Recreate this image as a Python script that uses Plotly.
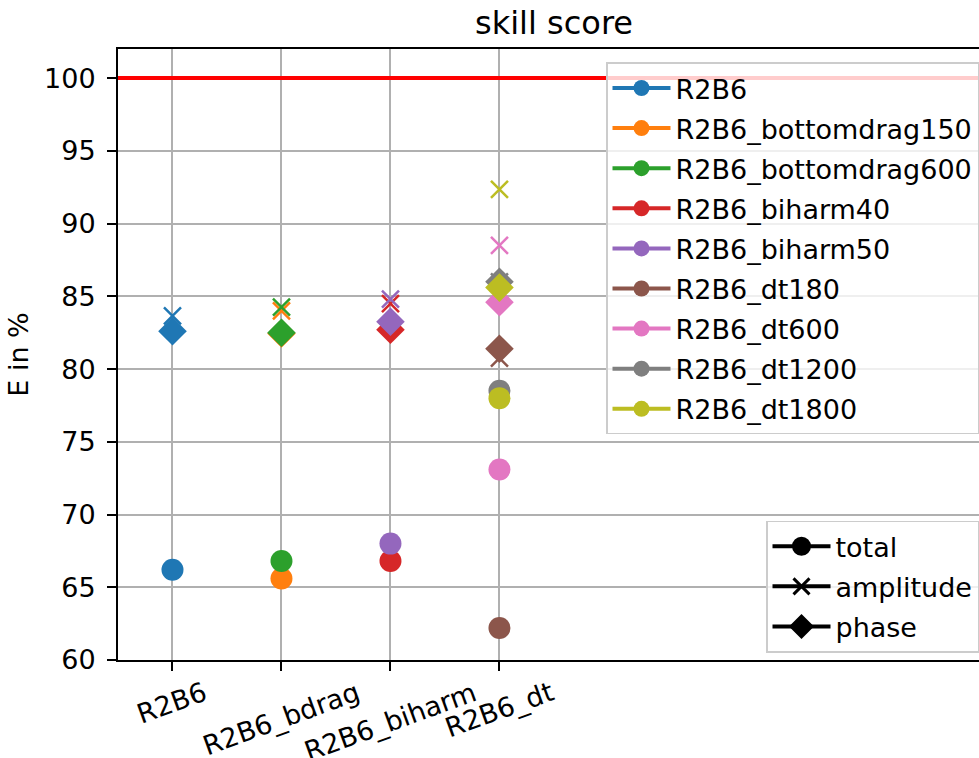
import plotly.graph_objects as go

# ---- data ----
categories = ["R2B6", "R2B6_bdrag", "R2B6_biharm", "R2B6_dt"]
series_names = ["R2B6", "R2B6_bottomdrag150", "R2B6_bottomdrag600", "R2B6_biharm40",
                "R2B6_biharm50", "R2B6_dt180", "R2B6_dt600", "R2B6_dt1200", "R2B6_dt1800"]
series_category = [0, 1, 1, 2, 2, 3, 3, 3, 3]
total = [66.2, 65.6, 66.8, 66.8, 68.0, 62.2, 73.1, 78.5, 78.0]
amplitude = [83.65, 84.0, 84.25, 84.5, 84.8, 80.75, 88.5, 86.0, 92.35]
phase = [82.6, 82.45, 82.5, 82.7, 83.25, 81.4, 84.6, 86.0, 85.6]
reference_value = 100
metric_names = ["total", "amplitude", "phase"]
y_ticks = [60, 65, 70, 75, 80, 85, 90, 95, 100]

colors = ["#1f77b4", "#ff7f0e", "#2ca02c", "#d62728", "#9467bd",
          "#8c564b", "#e377c2", "#7f7f7f", "#bcbd22"]

FONT = "DejaVu Sans"
FS = 27

fig = go.Figure()

for i, name in enumerate(series_names):
    c = colors[i]
    x = [series_category[i]]
    fig.add_trace(go.Scatter(
        x=x, y=[total[i]], mode="lines+markers", name=name,
        legend="legend", legendgroup="s%d" % i,
        line=dict(color=c, width=4),
        marker=dict(symbol="circle", size=22, color=c, line=dict(width=0)),
    ))
    fig.add_trace(go.Scatter(
        x=x, y=[amplitude[i]], mode="markers", showlegend=False,
        marker=dict(symbol="x-thin", size=17, color=c, line=dict(width=2.5, color=c)),
    ))
    fig.add_trace(go.Scatter(
        x=x, y=[phase[i]], mode="markers", showlegend=False,
        marker=dict(symbol="diamond", size=22, color=c, line=dict(width=0)),
    ))

# metric legend (legend2)
metric_symbols = ["circle", "x-thin", "diamond"]
for j, m in enumerate(metric_names):
    fig.add_trace(go.Scatter(
        x=[None], y=[None], mode="lines+markers", name=m,
        legend="legend2", legendgroup="m%d" % j,
        line=dict(color="black", width=4),
        marker=dict(symbol=metric_symbols[j], size=22, color="black",
                    line=dict(width=3, color="black")),
    ))

fig.add_hline(y=reference_value, line=dict(color="red", width=4))

# rotated category labels centred under the ticks
for i, cat in enumerate(categories):
    fig.add_annotation(
        x=i, xref="x", y=-0.022, yref="paper", text=cat, showarrow=False,
        textangle=-20, xanchor="center", yanchor="top",
        font=dict(family=FONT, size=FS, color="black"),
    )

legend_style = dict(
    bgcolor="rgba(255,255,255,0.8)", bordercolor="#cccccc", borderwidth=1.5,
    font=dict(family=FONT, size=FS, color="black"),
    xanchor="right", yanchor="top", tracegroupgap=2, itemwidth=58,
)

fig.update_layout(
    width=979, height=758,
    margin=dict(l=118, r=0, t=49, b=98),
    paper_bgcolor="white", plot_bgcolor="white",
    font=dict(family=FONT, size=FS, color="black"),
    title=dict(text="skill score", x=554 / 979, xref="container", xanchor="center",
               y=1 - 23 / 758, yref="container", yanchor="middle",
               font=dict(family=FONT, size=32, color="black")),
    showlegend=True,
    legend=dict(x=1, y=0.978, entrywidth=315, **legend_style),
    legend2=dict(x=1, y=0.228, entrywidth=150, **legend_style),
    xaxis=dict(
        range=[-0.5, 7.4], tickmode="array", tickvals=list(range(len(categories))),
        showticklabels=False, showgrid=True, gridcolor="#b0b0b0", gridwidth=2,
        zeroline=False, showline=True, linecolor="black", linewidth=2, mirror=True,
        ticks="outside", ticklen=9, tickwidth=2, tickcolor="black",
    ),
    yaxis=dict(
        range=[60, 102], tickmode="array", tickvals=y_ticks,
        showgrid=True, gridcolor="#b0b0b0", gridwidth=2, zeroline=False,
        showline=True, linecolor="black", linewidth=2, mirror=False,
        ticks="outside", ticklen=9, tickwidth=2, tickcolor="black",
        ticklabelstandoff=6,
        tickfont=dict(family=FONT, size=FS, color="black"),
        title=dict(text="E in %", standoff=8, font=dict(family=FONT, size=FS, color="black")),
    ),
)

fig.write_html("out.html", config={"displayModeBar": False},
               post_script="document.body.style.margin='0';")
